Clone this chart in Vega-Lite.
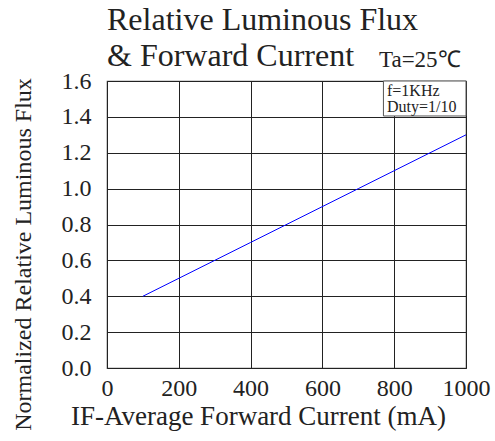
{
  "$schema": "https://vega.github.io/schema/vega-lite/v6.json",
  "autosize": "none",
  "width": 359,
  "height": 287,
  "padding": {"left": 107, "top": 81, "right": 29, "bottom": 73},
  "background": "white",
  "config": {
    "font": "Liberation Serif",
    "view": {"stroke": "#555555", "strokeWidth": 1.2},
    "axis": {
      "labelFont": "Liberation Serif",
      "titleFont": "Liberation Serif",
      "labelColor": "#222222",
      "titleColor": "#222222",
      "titleFontWeight": "normal",
      "labelFontSize": 24,
      "titleFontSize": 25,
      "grid": true,
      "gridColor": "#222222",
      "gridWidth": 1,
      "gridOpacity": 1,
      "ticks": false,
      "domain": false,
      "labelOverlap": false,
      "labelFlush": false,
      "labelBound": false
    }
  },
  "title": {
    "text": ["Relative Luminous Flux", "& Forward Current"],
    "anchor": "start",
    "frame": "group",
    "font": "Liberation Serif",
    "fontSize": 32,
    "fontWeight": "normal",
    "color": "#222222",
    "lineHeight": 36,
    "offset": 12,
    "dy": 36
  },
  "encoding": {
    "x": {
      "field": "current", "type": "quantitative",
      "scale": {"domain": [0, 1000], "nice": false},
      "axis": {"values": [0, 200, 400, 600, 800, 1000], "tickCount": 10, "format": "d", "labelPadding": 8, "title": "IF-Average Forward Current (mA)", "titleFontSize": 27, "titleX": 151, "titleY": 56, "titleAlign": "center", "titleBaseline": "alphabetic"}
    },
    "y": {
      "field": "flux", "type": "quantitative",
      "scale": {"domain": [0, 1.6], "nice": false},
      "axis": {"values": [0, 0.2, 0.4, 0.6, 0.8, 1.0, 1.2, 1.4, 1.6], "tickCount": 12, "format": ".1f", "labelPadding": 16, "title": "Normalized Relative Luminous Flux", "titleFontSize": 24, "titleX": -72, "titleY": 173, "titleAlign": "center"}
    }
  },
  "layer": [
    {
      "data": {"values": [
        {"current": 100, "flux": 0.4},
        {"current": 400, "flux": 0.7},
        {"current": 700, "flux": 1.0},
        {"current": 1000, "flux": 1.3}
      ]},
      "mark": {"type": "line", "color": "#0000ff", "strokeWidth": 1}
    },
    {
      "data": {"values": [{"current": 770, "current2": 1000, "flux": 1.405, "flux2": 1.6}]},
      "mark": {"type": "rect", "fill": "white", "stroke": "#555555", "strokeWidth": 1},
      "encoding": {
        "x2": {"field": "current2"},
        "y2": {"field": "flux2"}
      }
    },
    {
      "data": {"values": [
        {"current": 780, "flux": 1.545, "label": "f=1KHz"},
        {"current": 780, "flux": 1.455, "label": "Duty=1/10"}
      ]},
      "mark": {"type": "text", "align": "left", "baseline": "middle", "fontSize": 16, "font": "Liberation Serif", "color": "#222222"},
      "encoding": {
        "text": {"field": "label"}
      }
    },
    {
      "data": {"values": [{"current": 985, "flux": 1.68, "label": "Ta=25℃"}]},
      "mark": {"type": "text", "align": "right", "baseline": "alphabetic", "fontSize": 23, "font": "Liberation Serif", "color": "#222222", "clip": false},
      "encoding": {
        "text": {"field": "label"}
      }
    }
  ]
}
